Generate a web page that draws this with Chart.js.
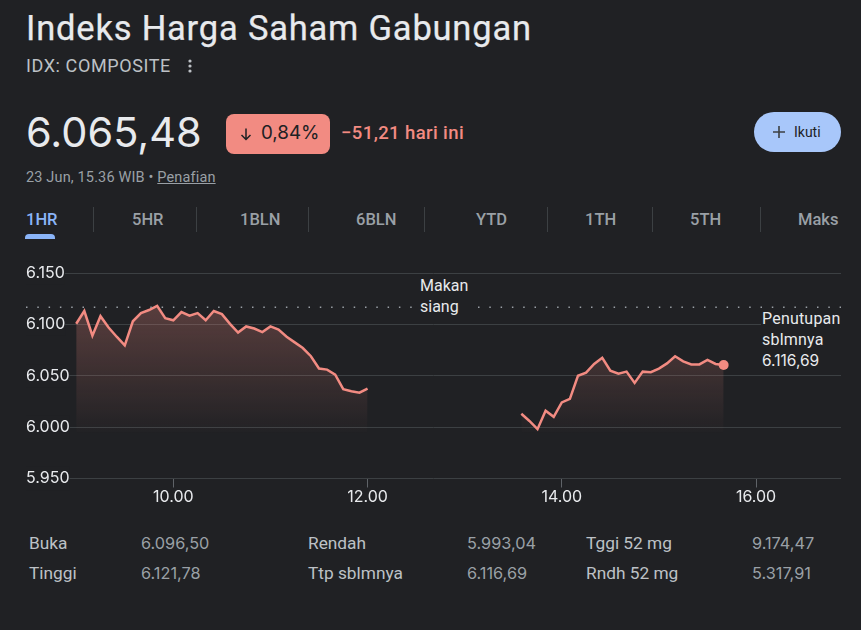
<!DOCTYPE html>
<html>
<head>
<meta charset="utf-8">
<script src="https://cdn.jsdelivr.net/npm/chart.js@4"></script>
<style>
  html, body { margin: 0; padding: 0; background: #202124; }
  body { width: 861px; height: 630px; position: relative; overflow: hidden; font-family: Roboto, sans-serif; color: #e8eaed; }
  .t { position: absolute; white-space: nowrap; line-height: 1; }
  #title { left: 26px; top: 11px; font-size: 34.5px; letter-spacing: .8px; -webkit-text-stroke: .25px #e8eaed; }
  #ticker { left: 26px; top: 57px; font-size: 18px; color: #bdc1c6; letter-spacing: .6px; }
  #price { left: 26px; top: 112px; font-family: Inter; font-size: 41.5px; }
  #badge { position: absolute; left: 226px; top: 114px; width: 104px; height: 40px; border-radius: 8px; background: #f28b82; }
  #pct { left: 261px; top: 124px; font-family: Inter; font-size: 18.8px; color: #202124; }
  #delta { left: 341px; top: 124px; font-size: 18.5px; font-weight: 500; color: #f28b82; letter-spacing: .4px; }
  #stamp { left: 26px; top: 171px; font-size: 14.5px; color: #9aa0a6; letter-spacing: .15px; }
  #stamp u { color: #9aa0a6; }
  #follow { position: absolute; left: 754px; top: 112px; width: 87px; height: 40px; border-radius: 20px; background: #a8c7fa; }
  #followTxt { left: 794px; top: 125px; font-size: 14px; color: #202124; }
  .tab { top: 212px; font-size: 16.5px; font-weight: 500; color: #9aa0a6; }
  .sep { position: absolute; top: 207px; width: 1px; height: 25px; background: #3c4043; }
  #under { position: absolute; left: 25px; top: 234px; width: 30px; height: 5px; border-radius: 4px 4px 0 0; background: #8ab4f8; }
  #wrap { position: absolute; left: 0; top: 260px; width: 861px; height: 250px; }
  #lunch { left: 420px; top: 275px; font-size: 16px; line-height: 21px; background: #202124; padding: 0 2px 0 0; white-space: pre-line; }
  #prevClose { left: 761px; top: 308px; font-size: 16px; letter-spacing: .2px; line-height: 21px; background: #202124; white-space: pre-line; padding-left: 1px; padding-bottom: 2px; }
  #prevClose span { font-family: Inter; font-size: 15.5px; letter-spacing: 0; }
  .lab { font-size: 17.3px; color: #bdc1c6; }
  .val { font-family: Inter; font-size: 16.3px; color: #9aa0a6; }
  svg { position: absolute; }
</style>
</head>
<body>
<div class="t" id="title">Indeks Harga Saham Gabungan</div>
<div class="t" id="ticker">IDX: COMPOSITE</div>
<svg style="left:186px;top:58px" width="8" height="16"><circle cx="4" cy="3" r="1.6" fill="#bdc1c6"/><circle cx="4" cy="8" r="1.6" fill="#bdc1c6"/><circle cx="4" cy="13" r="1.6" fill="#bdc1c6"/></svg>
<div class="t" id="price">6.065,48</div>
<div id="badge"></div>
<svg style="left:238px;top:126px" width="16" height="16"><path d="M8 2.5V13.5M3.5 9L8 13.5L12.5 9" stroke="#202124" stroke-width="1.5" fill="none"/></svg>
<div class="t" id="pct">0,84%</div>
<div class="t" id="delta">−51,21 hari ini</div>
<div class="t" id="stamp">23 Jun, 15.36 WIB • <u>Penafian</u></div>
<div id="follow"></div>
<svg style="left:772px;top:125px" width="14" height="14"><path d="M7 1V13M1 7H13" stroke="#3c4043" stroke-width="1.6"/></svg>
<div class="t" id="followTxt">Ikuti</div>
<div id="tabs"></div>
<div id="under"></div>
<div id="wrap"><canvas id="myChart" width="861" height="250"></canvas></div>
<div class="t" id="lunch">Makan
siang</div>
<div class="t" id="prevClose">Penutupan
sblmnya
<span>6.116,69</span></div>
<div id="stats"></div>

<script>
const morningTimes = ['9.00','9.05','9.10','9.15','9.20','9.25','9.30','9.35','9.40','9.45','9.50','9.55',
  '10.00','10.05','10.10','10.15','10.20','10.25','10.30','10.35','10.40','10.45','10.50','10.55',
  '11.00','11.05','11.10','11.15','11.20','11.25','11.30','11.35','11.40','11.45','11.50','11.55','12.00']
const morningValues = [6100.6,6113,6089,6108,6097,6088,6079.5,6103,6111,6114,6118,6106,
  6104,6112,6108.5,6111,6104,6113,6110,6100.5,6092,6098,6096,6092.5,
  6098,6095,6088,6082.5,6077,6069,6057,6056,6051,6037,6035,6033.5,6037.5]
const afternoonTimes = ['13.35','13.40','13.45','13.50','13.55',
  '14.00','14.05','14.10','14.15','14.20','14.25','14.30','14.35','14.40','14.45','14.50','14.55',
  '15.00','15.05','15.10','15.15','15.20','15.25','15.30','15.35','15.40']
const afternoonValues = [6013,6006,5998,6016,6010,
  6024,6027.5,6050,6053,6061.5,6067.5,6055,6052,6054,6043,6054,6053.5,
  6057,6062,6069,6064,6061,6061,6065.5,6061.5,6060.5]
const prevClose = 6116.69
const yTicks = [5950, 6000, 6050, 6100, 6150]
const yTickLabels = ['5.950', '6.000', '6.050', '6.100', '6.150']
const xTicks = [10, 12, 14, 16]
const xTickLabels = ['10.00', '12.00', '14.00', '16.00']

const tabNames = ['1HR', '5HR', '1BLN', '6BLN', 'YTD', '1TH', '5TH', 'Maks']
const tabLefts = [26, 132, 240, 356, 476, 585, 690, 798]
const tabSeps = [93, 196, 308, 424, 547, 652, 760]
const statRows = [
  ['Buka', '6.096,50', 'Rendah', '5.993,04', 'Tggi 52 mg', '9.174,47'],
  ['Tinggi', '6.121,78', 'Ttp sblmnya', '6.116,69', 'Rndh 52 mg', '5.317,91']
]
const statLefts = [29, 141, 308, 467, 586, 752]
const statTops = [535, 565]

// x range of the axis, in hours
const xMin = 8.483
const xMax = 16.875

// tabs and stats table
tabNames.forEach((name, i) => {
  const el = document.createElement('div')
  el.className = 't tab'
  el.style.left = tabLefts[i] + 'px'
  if (i == 0) el.style.color = '#8ab4f8'
  el.textContent = name
  document.getElementById('tabs').appendChild(el)
})
tabSeps.forEach(x => {
  const el = document.createElement('div')
  el.className = 'sep'
  el.style.left = x + 'px'
  document.getElementById('tabs').appendChild(el)
})
statRows.forEach((row, r) => {
  row.forEach((txt, c) => {
    const el = document.createElement('div')
    el.className = 't ' + (c % 2 ? 'val' : 'lab')
    el.style.left = statLefts[c] + 'px'
    el.style.top = statTops[r] + 'px'
    el.textContent = txt
    document.getElementById('stats').appendChild(el)
  })
})

function toHours(t) {
  const parts = t.split('.')
  return parseInt(parts[0]) + parseInt(parts[1]) / 60
}
function toPoints(times, values) {
  return times.map((t, i) => ({ x: toHours(t), y: values[i] }))
}

function fillGradient(context) {
  const chart = context.chart
  if (!chart.chartArea) return 'transparent'
  const y = chart.scales.y
  const g = chart.ctx.createLinearGradient(0, y.getPixelForValue(prevClose), 0, y.getPixelForValue(5995))
  g.addColorStop(0, 'rgba(242,139,130,0.27)')
  g.addColorStop(1, 'rgba(242,139,130,0.01)')
  return g
}

const lastIdx = afternoonTimes.length - 1
const lineStyle = {
  borderColor: '#f28b82',
  borderWidth: 2.5,
  backgroundColor: fillGradient,
  fill: { value: 5995 },
  tension: 0
}

const ctx = document.getElementById('myChart').getContext('2d')
const myChart = new Chart(ctx, {
  type: 'line',
  data: {
    datasets: [
      {
        label: 'prev close',
        data: [{ x: xMin, y: prevClose }, { x: xMax, y: prevClose }],
        borderColor: '#9aa0a6',
        borderWidth: 1.5,
        borderDash: [1.5, 9.8],
        pointRadius: 0,
        fill: false
      },
      { label: 'pagi', data: toPoints(morningTimes, morningValues), pointRadius: 0, ...lineStyle },
      {
        label: 'siang',
        data: toPoints(afternoonTimes, afternoonValues),
        pointRadius: c => c.dataIndex == lastIdx ? 5 : 0,
        pointBackgroundColor: '#f28b82',
        pointBorderWidth: 0,
        ...lineStyle
      }
    ]
  },
  options: {
    responsive: false,
    animation: false,
    layout: { padding: { left: 26, right: 20, top: 13, bottom: 0 } },
    plugins: { legend: { display: false }, tooltip: { enabled: false } },
    scales: {
      x: {
        type: 'linear',
        min: xMin,
        max: xMax,
        afterBuildTicks: axis => { axis.ticks = xTicks.map(v => ({ value: v })) },
        afterFit: axis => { axis.height = 31.5 },
        border: { display: false },
        grid: { drawOnChartArea: false, drawTicks: true, tickLength: 9, tickColor: '#5f6368' },
        ticks: {
          autoSkip: false,
          maxRotation: 0,
          padding: 0,
          color: '#e8eaed',
          font: { family: 'Inter', size: 16 },
          callback: v => xTickLabels[xTicks.indexOf(v)]
        }
      },
      y: {
        min: 5950,
        max: 6150,
        afterBuildTicks: axis => { axis.ticks = yTicks.map(v => ({ value: v })) },
        afterFit: axis => { axis.width = 0 },
        border: { display: false },
        grid: { color: '#3c4043', lineWidth: 1, drawTicks: false },
        ticks: {
          mirror: true,
          padding: 0,
          color: '#e8eaed',
          font: { family: 'Inter', size: 16 },
          showLabelBackdrop: true,
          backdropColor: '#202124',
          backdropPadding: { left: 0, right: 0, top: 2, bottom: 2 },
          callback: v => yTickLabels[yTicks.indexOf(v)]
        }
      }
    }
  }
})
</script>
</body>
</html>
